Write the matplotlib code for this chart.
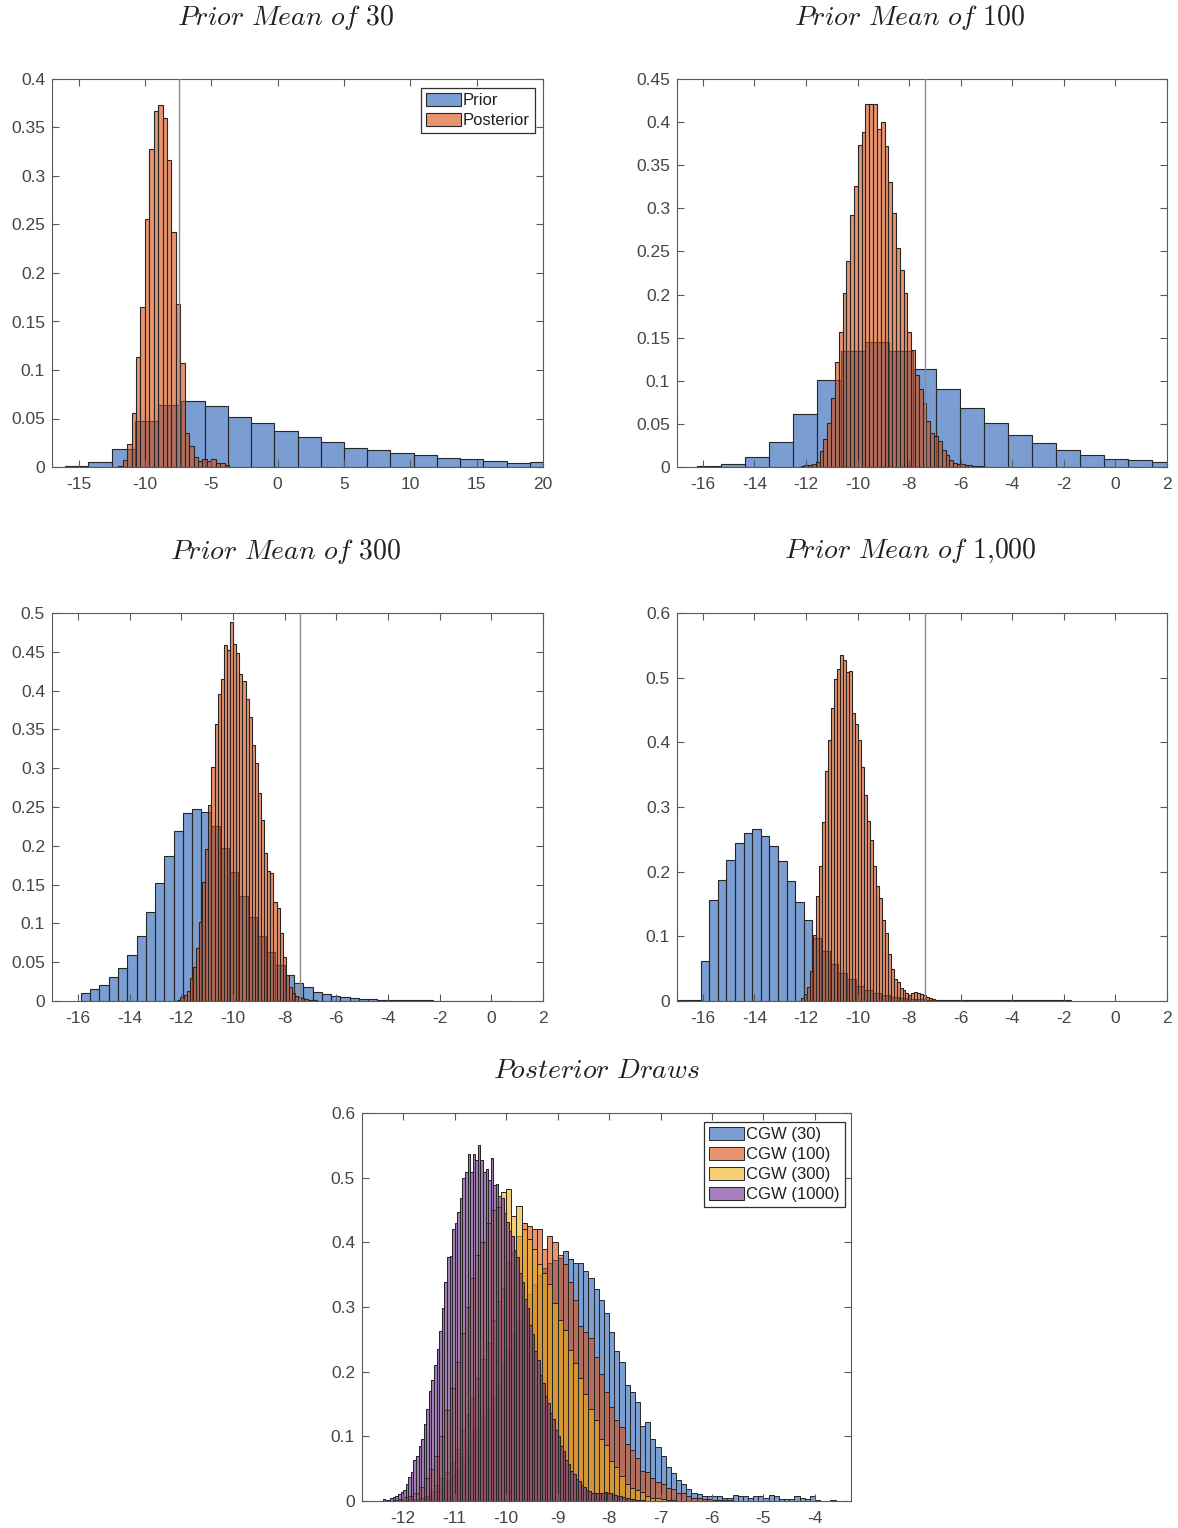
import matplotlib
matplotlib.use("Agg")
import matplotlib.pyplot as plt
import numpy as np
from matplotlib.ticker import FuncFormatter

plt.rcParams['font.family'] = ['Liberation Sans', 'DejaVu Sans']
plt.rcParams['axes.unicode_minus'] = False
plt.rcParams['mathtext.fontset'] = 'cm'

# ---------------- data (densities per bin) ----------------
ref_x = -7.4

# Panel 1: prior mean 30
p1_prior_start, p1_prior_width = -16.0, 1.75
p1_prior = [0.001, 0.005, 0.019, 0.047, 0.064, 0.068, 0.063, 0.052, 0.045, 0.037,
            0.031, 0.026, 0.020, 0.0175, 0.0147, 0.012, 0.0092, 0.0079, 0.0065, 0.0045, 0.005]
p1_post_start, p1_post_width = -12.0, 0.3333
p1_post = [0.001, 0.007, 0.024, 0.056, 0.113, 0.165, 0.256, 0.328, 0.367, 0.373,
           0.360, 0.316, 0.242, 0.168, 0.107, 0.035, 0.022, 0.010, 0.006, 0.008,
           0.006, 0.008, 0.0045, 0.0045, 0.002]

# Panel 2: prior mean 100
p2_prior_start, p2_prior_width = -16.22, 0.928
p2_prior = [0.001, 0.004, 0.0116, 0.029, 0.062, 0.101, 0.1345, 0.145, 0.1345, 0.114,
            0.090, 0.0688, 0.0506, 0.0367, 0.0274, 0.0197, 0.0135, 0.0097, 0.0077, 0.0058]
p2_post_start, p2_post_width = -12.21, 0.148
p2_post = [0.001, 0.002, 0.002, 0.003, 0.006, 0.018, 0.033, 0.051, 0.080, 0.122,
           0.157, 0.202, 0.239, 0.292, 0.326, 0.374, 0.388, 0.4215, 0.4215, 0.421,
           0.392, 0.400, 0.372, 0.330, 0.295, 0.254, 0.228, 0.202, 0.157, 0.136,
           0.107, 0.090, 0.0746, 0.053, 0.040, 0.036, 0.030, 0.020, 0.0135, 0.0077,
           0.005, 0.003, 0.003, 0.002, 0.002, 0.001, 0.001, 0.001]

# Panel 3: prior mean 300
p3_prior_start, p3_prior_width = -15.88, 0.3585
p3_prior = [0.0099, 0.0155, 0.020, 0.0305, 0.043, 0.059, 0.084, 0.115, 0.1525, 0.187,
            0.2195, 0.242, 0.247, 0.2435, 0.2255, 0.1976, 0.166, 0.135, 0.108, 0.084,
            0.0636, 0.0464, 0.0335, 0.0236, 0.0176, 0.012, 0.0086, 0.0064, 0.0047, 0.0035,
            0.0025, 0.002, 0.0015, 0.0012, 0.001, 0.001, 0.0008, 0.0008, 0.0006, 0.0006,
            0.0005, 0.0005, 0.0004, 0.0004, 0.0003, 0.0003]
p3_post_start, p3_post_width = -12.15, 0.12
p3_post = [0.0013, 0.0056, 0.0077, 0.0129, 0.0292, 0.0442, 0.0678, 0.1021, 0.1536, 0.1953,
           0.2532, 0.3017, 0.3575, 0.3961, 0.4146, 0.4584, 0.4528, 0.4884, 0.4605, 0.4489,
           0.4219, 0.412, 0.3888, 0.3661, 0.3305, 0.3069, 0.2682, 0.2330, 0.1901, 0.1674,
           0.1644, 0.1279, 0.1193, 0.0871, 0.0562, 0.0335, 0.0176, 0.0099, 0.0064, 0.0047,
           0.0034, 0.0021, 0.0013, 0.001, 0.001]

# Panel 4: prior mean 1,000
p4_prior_start, p4_prior_width = -17.09, 0.334
p4_prior = [0.0008, 0.0008, 0.0008, 0.0616, 0.156, 0.187, 0.2178, 0.244, 0.2604, 0.2666,
            0.2558, 0.2399, 0.2162, 0.185, 0.1536, 0.1248, 0.098, 0.078, 0.0575, 0.0437,
            0.0334, 0.0231, 0.017, 0.0128, 0.0092, 0.0062, 0.0051, 0.0036, 0.0026, 0.002,
            0.0008, 0.0008, 0.0008, 0.0008, 0.0008, 0.0008, 0.0008, 0.0008, 0.0008, 0.0008,
            0.0008, 0.0008, 0.0008, 0.0008, 0.0008, 0.002]
p4_post_start, p4_post_width = -12.2, 0.116
p4_post = [0.004, 0.011, 0.022, 0.046, 0.102, 0.162, 0.208, 0.277, 0.356, 0.404,
           0.453, 0.498, 0.513, 0.535, 0.528, 0.508, 0.511, 0.446, 0.429, 0.404,
           0.362, 0.319, 0.278, 0.249, 0.208, 0.178, 0.159, 0.125, 0.105, 0.072,
           0.049, 0.0345, 0.030, 0.020, 0.017, 0.0119, 0.0088, 0.0129, 0.0139, 0.0119,
           0.0103, 0.0088, 0.0067, 0.0052, 0.0026, 0.0015]

# Panel 5: posterior draws
cgw_labels = ['CGW (30)', 'CGW (100)', 'CGW (300)', 'CGW (1000)']
cgw30_start, cgw30_width = -11.8, 0.1
cgw30 = [0.002, 0.003, 0.006, 0.01, 0.015, 0.02, 0.028, 0.04, 0.05, 0.062,
         0.08, 0.1, 0.11, 0.13, 0.145, 0.16, 0.18, 0.21, 0.235, 0.26,
         0.28, 0.3, 0.32, 0.335, 0.35, 0.36, 0.368, 0.372, 0.376, 0.386,
         0.375, 0.368, 0.368, 0.355, 0.345, 0.328, 0.311, 0.29, 0.261, 0.232,
         0.215, 0.18, 0.168, 0.153, 0.116, 0.122, 0.096, 0.084, 0.069, 0.053,
         0.043, 0.0325, 0.027, 0.018, 0.012, 0.011, 0.0077, 0.0077, 0.0077, 0.0077,
         0.005, 0.005, 0.0098, 0.0077, 0.0077, 0.005, 0.0077, 0.0077, 0.005, 0.0098,
         0.0077, 0.0026, 0.0026, 0.0026, 0.0077, 0.005, 0.0026, 0.0077, 0.0015, 0.0,
         0.0, 0.001]
cgw100_start, cgw100_width = -12.2, 0.1
cgw100 = [0.001, 0.002, 0.002, 0.003, 0.003, 0.005, 0.008, 0.015, 0.025, 0.035,
          0.045, 0.06, 0.08, 0.11, 0.135, 0.16, 0.19, 0.22, 0.245, 0.28,
          0.31, 0.33, 0.37, 0.385, 0.41, 0.43, 0.425, 0.42, 0.42, 0.39,
          0.41, 0.40, 0.38, 0.367, 0.339, 0.311, 0.27, 0.262, 0.252, 0.223,
          0.197, 0.168, 0.145, 0.125, 0.114, 0.088, 0.079, 0.066, 0.047, 0.045,
          0.036, 0.030, 0.027, 0.0196, 0.0186, 0.012, 0.012, 0.0077, 0.005, 0.004,
          0.003, 0.003, 0.002, 0.002, 0.001, 0.001]
cgw300_start, cgw300_width = -12.2, 0.1
cgw300 = [0.001, 0.003, 0.006, 0.008, 0.012, 0.022, 0.036, 0.05, 0.07, 0.1,
          0.14, 0.175, 0.215, 0.26, 0.30, 0.345, 0.38, 0.40, 0.43, 0.45,
          0.455, 0.478, 0.483, 0.44, 0.456, 0.42, 0.405, 0.39, 0.367, 0.352,
          0.335, 0.306, 0.28, 0.264, 0.233, 0.213, 0.19, 0.166, 0.143, 0.125,
          0.096, 0.086, 0.062, 0.053, 0.038, 0.027, 0.02, 0.017, 0.014, 0.008,
          0.005, 0.004, 0.003, 0.002, 0.001]
cgw1000_start, cgw1000_width = -12.4, 0.05
cgw1000 = [0.0026, 0.001, 0.002, 0.005, 0.0067, 0.0077, 0.0103, 0.0134, 0.017, 0.026,
           0.0376, 0.045, 0.063, 0.0696, 0.0856, 0.0959, 0.1186, 0.1418, 0.170, 0.187,
           0.211, 0.2345, 0.263, 0.298, 0.339, 0.378, 0.379, 0.42, 0.43, 0.447,
           0.469, 0.50, 0.508, 0.536, 0.508, 0.536, 0.528, 0.55, 0.528, 0.508,
           0.514, 0.496, 0.531, 0.489, 0.49, 0.472, 0.468, 0.445, 0.432, 0.418,
           0.41, 0.388, 0.378, 0.352, 0.338, 0.312, 0.298, 0.272, 0.258, 0.232,
           0.218, 0.195, 0.182, 0.163, 0.152, 0.136, 0.127, 0.11, 0.1, 0.085,
           0.077, 0.064, 0.057, 0.047, 0.042, 0.034, 0.031, 0.024, 0.022, 0.017,
           0.016, 0.012, 0.012, 0.012, 0.012, 0.013, 0.014, 0.012, 0.013, 0.011,
           0.01, 0.008, 0.007, 0.006, 0.005, 0.004, 0.003, 0.003, 0.002, 0.002,
           0.001, 0.001]

titles = ['Prior Mean of 30', 'Prior Mean of 100', 'Prior Mean of 300',
          'Prior Mean of 1{,}000', 'Posterior Draws']

# ---------------- styling ----------------
ALPHA = 0.6
C_BLUE = (0.13, 0.37, 0.71)
C_ORANGE = (0.85, 0.30, 0.06)
C_YELLOW = (0.93, 0.69, 0.10)
C_PURPLE = (0.42, 0.17, 0.56)
EDGE = (0.15, 0.15, 0.15)
AX_COL = '#5a5a5a'
TXT_COL = '#454545'

W, H = 1178, 1528
fig = plt.figure(figsize=(W / 100, H / 100), dpi=100)


def px_axes(left, top, right, bottom):
    return fig.add_axes([left / W, 1 - bottom / H, (right - left) / W, (bottom - top) / H])


def draw_hist(ax, start, width, heights, color, lw=0.8, label=None):
    h = np.asarray(heights, dtype=float)
    edges = start + width * np.arange(len(h) + 1)
    centers = edges[:-1] + width / 2
    ax.hist(centers, bins=edges, weights=h, histtype='bar',
            facecolor=(*color, ALPHA), edgecolor=EDGE, linewidth=lw, label=label)


def style(ax, xlim, xticks, ylim, yticks):
    ax.set_xlim(*xlim)
    ax.set_ylim(*ylim)
    ax.set_xticks(xticks)
    ax.set_yticks(yticks)
    fmt = FuncFormatter(lambda v, p: ('%g' % round(v, 4)))
    ax.xaxis.set_major_formatter(fmt)
    ax.yaxis.set_major_formatter(fmt)
    ax.tick_params(direction='in', top=True, right=True, length=5, width=0.8,
                   color=AX_COL, labelcolor=TXT_COL, labelsize=12.5)
    ax.tick_params(axis='x', pad=7)
    ax.tick_params(axis='y', pad=5)
    for s in ax.spines.values():
        s.set_color(AX_COL)
        s.set_linewidth(0.8)


def legend(ax, dx_px, dy_px, w_px, h_px):
    lg = ax.legend(loc='upper right',
                   bbox_to_anchor=(1 - dx_px / w_px, 1 - dy_px / h_px),
                   borderaxespad=0, fontsize=12, handlelength=2.1, handleheight=0.85,
                   handletextpad=0.15, labelspacing=0.27, borderpad=0.3,
                   fancybox=False, framealpha=1)
    lg.get_frame().set_edgecolor('#303030')
    lg.get_frame().set_linewidth(0.9)
    for t in lg.get_texts():
        t.set_color('#202020')
    return lg


ax1 = px_axes(52, 79, 543, 467)
ax2 = px_axes(677, 79, 1167, 467)
ax3 = px_axes(52, 613, 543, 1001)
ax4 = px_axes(677, 613, 1167, 1001)
ax5 = px_axes(362, 1113, 851, 1501)

panels = [
    (ax1, p1_prior_start, p1_prior_width, p1_prior, p1_post_start, p1_post_width, p1_post,
     (-17, 20), np.arange(-15, 21, 5), (0, 0.4), np.arange(0, 0.401, 0.05)),
    (ax2, p2_prior_start, p2_prior_width, p2_prior, p2_post_start, p2_post_width, p2_post,
     (-17, 2), np.arange(-16, 3, 2), (0, 0.45), np.arange(0, 0.451, 0.05)),
    (ax3, p3_prior_start, p3_prior_width, p3_prior, p3_post_start, p3_post_width, p3_post,
     (-17, 2), np.arange(-16, 3, 2), (0, 0.5), np.arange(0, 0.501, 0.05)),
    (ax4, p4_prior_start, p4_prior_width, p4_prior, p4_post_start, p4_post_width, p4_post,
     (-17, 2), np.arange(-16, 3, 2), (0, 0.6), np.arange(0, 0.601, 0.1)),
]

for ax, ps, pw, ph, qs, qw, qh, xl, xt, yl, yt in panels:
    draw_hist(ax, ps, pw, ph, C_BLUE, label='Prior')
    draw_hist(ax, qs, qw, qh, C_ORANGE, label='Posterior')
    ax.axvline(ref_x, color='#8a8a8a', lw=1.0, zorder=5)
    style(ax, xl, xt, yl, yt)

legend(ax1, 8, 9, 491, 388)

draw_hist(ax5, cgw30_start, cgw30_width, cgw30, C_BLUE, lw=0.7, label=cgw_labels[0])
draw_hist(ax5, cgw100_start, cgw100_width, cgw100, C_ORANGE, lw=0.7, label=cgw_labels[1])
draw_hist(ax5, cgw300_start, cgw300_width, cgw300, C_YELLOW, lw=0.7, label=cgw_labels[2])
draw_hist(ax5, cgw1000_start, cgw1000_width, cgw1000, C_PURPLE, lw=0.75, label=cgw_labels[3])
style(ax5, (-12.8, -3.3), np.arange(-12, -3, 1), (0, 0.6), np.arange(0, 0.601, 0.1))
legend(ax5, 6, 9, 489, 388)

# titles
title_pos = [(286, 18), (910, 18), (286, 551), (910, 551), (597, 1071)]
for t, (x, y) in zip(titles, title_pos):
    words = t.split(' ')
    fig.text(x / W, 1 - y / H, r'$\mathit{' + r'\ '.join(words) + '}$',
             ha='center', va='center', fontsize=20, color='#202020')

fig.savefig('out.png', dpi=100)
